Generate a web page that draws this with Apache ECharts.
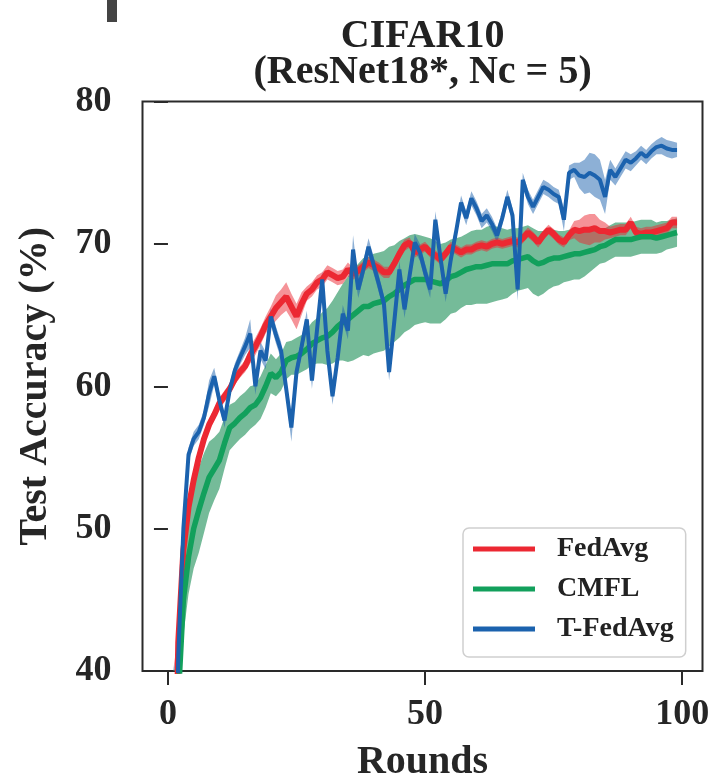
<!DOCTYPE html>
<html><head><meta charset="utf-8">
<script src="https://cdn.jsdelivr.net/npm/echarts@6/dist/echarts.min.js"></script>
<style>html,body{margin:0;padding:0;background:#fff}#c{width:715px;height:782px}</style>
</head><body><div id="c"></div>
<script>
// ---- data ----
const rounds = Array.from({length: 100}, (_, i) => i);
const xTicks = [0, 50, 100];
const yTicks = [40, 50, 60, 70, 80];
const seriesNames = ['FedAvg', 'CMFL', 'T-FedAvg'];

const fedAvg = [10,22,42,48.5,51.5,53.4,55.0,56.3,57.3,58.0,
58.8,59.3,59.8,60.5,61.0,61.4,62.2,62.8,63.5,64.3,
64.9,65.5,65.9,66.3,65.6,64.9,65.8,66.5,66.8,67.3,
67.5,68.0,67.8,67.6,67.7,68.2,67.9,68.1,68.4,68.7,
68.5,68.3,68.0,68.0,68.6,69.3,69.9,70.1,69.4,69.6,
69.8,69.4,69.2,68.9,69.3,69.8,69.6,69.4,69.6,69.6,
69.8,69.9,69.8,70.0,70.1,70.0,70.1,70.2,70.1,70.4,
70.8,70.5,70.1,70.6,71.0,70.7,70.3,70.1,70.6,71.0,
70.9,71.0,71.0,71.1,70.9,70.9,70.8,70.9,71.0,71.0,
71.5,70.8,70.7,70.8,70.8,70.9,71.0,71.1,71.5,71.5];
const fedAvgStd = [0.5,0.5,0.5,0.5,0.5, 0.4,0.4,0.4,0.4,0.4,
0.4,0.4,0.4,0.4,0.4, 0.4,0.6,0.6,0.6,0.6,
0.7,0.9,0.9,1.0,0.9, 0.9,0.8,0.5,0.5,0.5,
0.5,0.5,0.5,0.5,0.5, 0.5,0.4,0.4,0.4,0.4,
0.4,0.4,0.4,0.4,0.4, 0.4,0.4,0.35,0.35,0.35,
0.35,0.35,0.35,0.35,0.35, 0.35,0.35,0.35,0.35,0.35,
0.35,0.35,0.35,0.35,0.35, 0.35,0.35,0.35,0.35,0.35,
0.35,0.35,0.35,0.35,0.35, 0.35,0.35,0.35,0.35,0.6,
0.8,1.0,1.1,1.0,0.8, 0.6,0.4,0.4,0.4,0.4,
0.4,0.4,0.4,0.4,0.4, 0.4,0.4,0.4,0.4,0.4];

const cmfl = [8,18,38,45,48,50.0,51.3,52.5,53.6,54.2,
54.8,56.0,57.1,57.4,57.8,58.1,58.5,58.7,59.2,60.0,
60.9,60.6,61.0,61.8,62.0,62.1,62.3,62.6,63.0,63.2,
63.4,63.5,63.8,64.2,64.5,64.7,65.0,65.3,65.6,65.6,
65.8,65.9,66.0,66.3,66.5,66.8,67.1,67.3,67.5,67.5,
67.5,67.4,67.3,67.2,67.4,67.7,67.8,68.0,68.2,68.3,
68.4,68.4,68.5,68.6,68.6,68.6,68.6,68.8,68.9,69.0,
69.1,68.8,68.6,68.7,68.9,69.0,69.0,69.1,69.2,69.3,
69.3,69.4,69.5,69.6,69.8,69.9,70.1,70.3,70.3,70.3,
70.3,70.4,70.5,70.5,70.5,70.4,70.5,70.6,70.7,70.8];
const cmflStd = [2.5,2.5,2.5,2.5,2.6, 2.8,3.0,2.8,2.5,2.2,
2.0,1.8,1.6,1.5,1.5, 1.5,1.5,1.4,1.5,1.5,
1.4,1.3,1.3,1.3,1.2, 1.3,1.3,1.4,1.5,1.6,
1.8,2.0,2.2,2.4,2.7, 3.0,3.2,3.3,3.4,3.5,
3.5,3.5,3.5,3.5,3.4, 3.4,3.3,3.3,3.2,3.1,
3.0,3.0,2.9,2.8,2.7, 2.6,2.6,2.5,2.5,2.6,
2.6,2.6,2.7,2.7,2.6, 2.5,2.4,2.3,2.2,2.2,
2.2,2.3,2.3,2.2,2.1, 2.0,1.9,1.8,1.8,1.8,
1.8,1.7,1.5,1.3,1.2, 1.2,1.2,1.2,1.2,1.2,
1.2,1.2,1.2,1.2,1.2, 1.1,1.1,1.0,1.0,1.0];

const tFedAvg = [10,20,41,50,55.2,56.3,56.8,57.8,59.5,60.7,
59.0,57.6,59.7,61.1,62.0,62.8,63.7,60.0,62.5,61.8,
64.9,63.6,62.5,59.8,57.1,61.0,62.8,64.7,60.4,64.0,
67.5,62.5,59.3,62.0,65.1,63.9,69.6,66.8,68.2,69.8,
68.5,67.2,65.8,61.0,64.5,68.2,65.4,67.8,70.1,69.4,
68.0,66.8,71.7,69.0,66.5,68.9,70.8,72.9,71.8,73.2,
72.5,71.6,72.0,71.4,70.6,71.8,73.3,72.0,66.8,74.5,
73.3,72.6,73.3,74.0,73.8,73.5,73.3,71.7,75.0,75.2,
74.8,74.7,75.0,74.8,74.5,73.3,75.2,74.7,75.3,75.9,
75.7,76.0,76.4,76.1,76.5,76.8,76.9,76.7,76.6,76.6];
const tFedAvgStd = [0.5,0.5,0.5,0.5,0.5, 0.5,0.5,0.5,0.9,0.6,
0.5,0.5,0.5,0.5,0.5, 0.6,1.0,0.6,0.6,0.6,
0.6,0.6,0.6,0.6,1.0, 0.6,0.6,0.6,0.6,0.6,
0.6,0.6,0.6,0.6,0.6, 0.6,1.0,0.6,0.6,0.6,
0.6,0.6,0.6,0.6,1.0, 0.6,0.6,0.6,0.6,0.6,
0.6,0.6,0.6,0.6,0.6, 0.6,0.5,0.5,0.5,0.5,
0.5,0.5,0.5,0.5,0.5, 0.5,0.5,0.5,0.8,0.5,
0.5,0.5,0.5,0.5,0.5, 0.5,0.5,0.8,0.5,0.5,
0.9,1.2,1.4,1.5,1.4, 1.2,0.7,0.6,0.6,0.6,
0.6,0.5,0.5,0.5,0.5, 0.5,0.6,0.6,0.6,0.5];

// ---- styling ----
const RED = '#ec2832', GREEN = '#12a05c', BLUE = '#1b62ae';
const GREEN_BAND = '#3a9e6e';
const FONT = '"Liberation Serif", "Times New Roman", serif';
const TXT = '#262626';

function bandSeries(name, mean, std, color, opacity) {
  return {
    name: name + ' band', type: 'custom', silent: true, z: 1, clip: true,
    data: [0],
    renderItem: function (params, api) {
      const upper = rounds.map((x, i) => api.coord([x, mean[i] + std[i]]));
      const lower = rounds.map((x, i) => api.coord([x, mean[i] - std[i]])).reverse();
      const cs = params.coordSys;
      // keep polygon inside the plotting area
      const pts = upper.concat(lower).map(p => [
        Math.min(Math.max(p[0], cs.x), cs.x + cs.width),
        Math.min(Math.max(p[1], cs.y), cs.y + cs.height)]);
      return { type: 'polygon', shape: { points: pts }, style: { fill: color, opacity: opacity } };
    }
  };
}
function lineSeries(name, vals, color, width, z) {
  return { name: name, type: 'line', symbol: 'none', z: z,
    data: rounds.map((x, i) => [x, vals[i]]),
    lineStyle: { color: color, width: width }, itemStyle: { color: color } };
}

const chart = echarts.init(document.getElementById('c'), null, { renderer: 'canvas' });
chart.setOption({
  animation: false,
  backgroundColor: '#fff',
  graphic: [
    { type: 'rect', shape: { x: 107, y: 0, width: 10, height: 22 }, style: { fill: '#444' } },
    { type: 'text', x: 422.6, y: 19, style: { text: 'CIFAR10\n(ResNet18*, Nc = 5)', align: 'center', verticalAlign: 'top',
      font: 'bold 40px ' + FONT, lineHeight: 36, fill: '#222' } }
  ],
  grid: { left: 142.5, right: 12.5, top: 101.5, bottom: 111, show: true, borderColor: '#2a2a2a', borderWidth: 2,
    backgroundColor: 'transparent', containLabel: false, outerBoundsMode: 'none' },
  legend: {
    data: seriesNames.map(n => ({ name: n, icon: 'rect' })),
    orient: 'vertical', left: 463, top: 528,
    padding: [6, 12, 13, 10], itemGap: 10, itemWidth: 62, itemHeight: 5,
    backgroundColor: 'rgba(255,255,255,0.85)', borderColor: '#cfcfcf', borderWidth: 1.5, borderRadius: 6,
    textStyle: { fontFamily: FONT, fontWeight: 'bold', fontSize: 28, color: '#222', lineHeight: 30, padding: [0, 0, 0, 17] },
    z: 10
  },
  xAxis: {
    type: 'value', min: -4.95, max: 103.95,
    axisLine: { show: false }, splitLine: { show: false },
    axisTick: { show: true, length: 14, lineStyle: { color: '#2a2a2a', width: 2 }, customValues: xTicks },
    axisLabel: { customValues: xTicks, margin: 26, fontSize: 36, fontFamily: FONT, fontWeight: 'bold', color: TXT },
    name: 'Rounds', nameLocation: 'middle', nameGap: 72,
    nameTextStyle: { fontSize: 40, fontFamily: FONT, fontWeight: 'bold', color: TXT }
  },
  yAxis: {
    type: 'value', min: yTicks[0], max: yTicks[yTicks.length - 1], interval: 10,
    axisLine: { show: false }, splitLine: { show: false },
    axisTick: { show: true, length: 14, lineStyle: { color: '#2a2a2a', width: 2 } },
    axisLabel: { margin: 31, fontSize: 36, fontFamily: FONT, fontWeight: 'bold', color: TXT },
    name: 'Test Accuracy (%)', nameLocation: 'middle', nameGap: 87,
    nameTextStyle: { fontSize: 40, fontFamily: FONT, fontWeight: 'bold', color: TXT }
  },
  series: [
    bandSeries('CMFL', cmfl, cmflStd, GREEN_BAND, 0.7),
    bandSeries('FedAvg', fedAvg, fedAvgStd, RED, 0.5),
    bandSeries('T-FedAvg', tFedAvg, tFedAvgStd, BLUE, 0.5),
    lineSeries('FedAvg', fedAvg, RED, 6, 3),
    lineSeries('CMFL', cmfl, GREEN, 5.5, 4),
    lineSeries('T-FedAvg', tFedAvg, BLUE, 4, 5)
  ]
});
</script>
</body></html>
